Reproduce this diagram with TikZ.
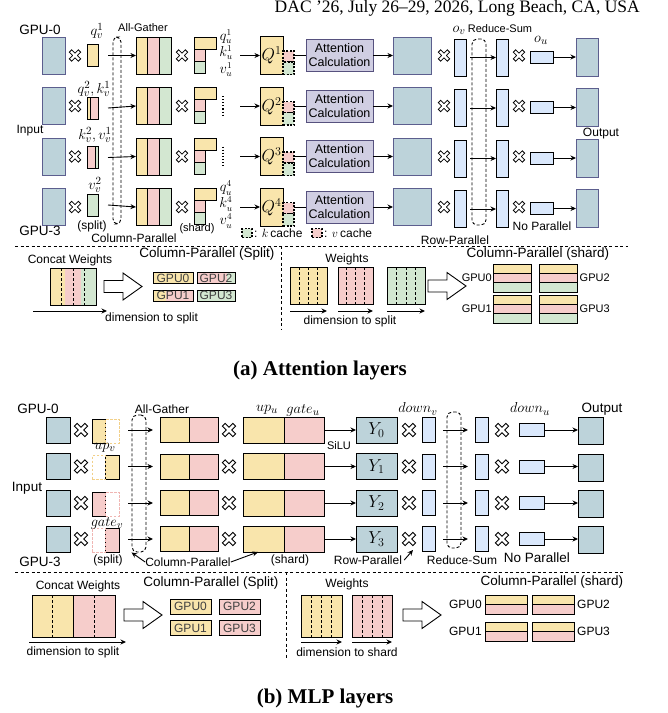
\documentclass[tikz,border=0pt]{standalone}
\usepackage{fontspec}
\setmainfont{Liberation Sans}
\newfontfamily\capfont{Liberation Serif}
\usepackage{amsmath}
\usetikzlibrary{arrows.meta,positioning,calc}
\definecolor{inblue}{HTML}{BDD3DA}
\definecolor{inedge}{HTML}{5C5E8E}
\definecolor{qyel}{HTML}{F9E5AC}
\definecolor{kpink}{HTML}{F6CDCB}
\definecolor{vgreen}{HTML}{D3E7D1}
\definecolor{obluel}{HTML}{DAE8FC}
\definecolor{attfill}{HTML}{D0CEE2}
\definecolor{attedge}{HTML}{56517E}
\definecolor{ghy}{HTML}{F2D089}
\definecolor{ghp}{HTML}{F0B6B3}

\tikzset{
  mulx/.pic={\draw[line width=4.2pt] (-4.8,-4.8)--(4.8,4.8) (-4.8,4.8)--(4.8,-4.8);
    \draw[line width=2.4pt,white] (-4.1,-4.1)--(4.1,4.1) (-4.1,4.1)--(4.1,-4.1);},
  mulxb/.pic={\draw[line width=4.8pt] (-5.6,-5.6)--(5.6,5.6) (-5.6,5.6)--(5.6,-5.6);
    \draw[line width=2.8pt,white] (-4.85,-4.85)--(4.85,4.85) (-4.85,4.85)--(4.85,-4.85);},
  hollowarr/.pic={\draw[line width=0.9pt,fill=white] (0,-6)--(19,-6)--(19,-13.5)--(38,0)--(19,13.5)--(19,6)--(0,6)--cycle;}
}

\begin{document}
\begin{tikzpicture}[x=1pt,y=-1pt,font=\fontsize{12}{13}\selectfont,
  blk/.style={draw=black,line width=0.8pt,inner sep=0pt,outer sep=0pt},
  inbox/.style={blk,draw=inedge,fill=inblue,line width=1pt},
  thinbox/.style={blk,fill=obluel},
  cache/.style={blk,dashed,dash pattern=on 2pt off 1.5pt,line width=1.1pt,minimum width=11pt},
  ghost/.style={blk,dashed,dash pattern=on 2.5pt off 1.5pt},
  dashbox/.style={draw,dashed,dash pattern=on 3pt off 2pt,line width=0.9pt,rounded corners=5pt,inner sep=0pt},
  attbox/.style={blk,draw=attedge,fill=attfill,line width=1pt,minimum width=67pt,minimum height=32pt,align=center,font=\fontsize{12.5}{14}\selectfont},
  gbox/.style={blk,text=black!75,font=\fontsize{12}{12}\selectfont},
  sep/.style={dashed,dash pattern=on 3pt off 2.5pt,line width=0.9pt},
  innerdash/.style={dashed,dash pattern=on 3pt off 2pt,line width=0.9pt},
  arr/.style={-{Stealth[length=5.5pt,width=5pt]},line width=0.9pt},
  lbl/.style={inner sep=0pt},
  slbl/.style={font=\fontsize{11}{12}\selectfont,inner sep=0pt},
  blbl/.style={font=\fontsize{13.5}{14}\selectfont,inner sep=0pt},
  mlab/.style={font=\fontsize{15}{15}\selectfont,inner sep=0pt},
  qlab/.style={font=\fontsize{13.5}{14}\selectfont,inner sep=0pt}]
\useasboundingbox (0,0) rectangle (668,713);

\node[font=\capfont\fontsize{17.5}{18}\selectfont,anchor=east,inner sep=0pt] (hdr) at (640,8) {DAC ’26, July 26–29, 2026, Long Beach, CA, USA};

% (a) attention
\node[blk,fill=qyel,minimum width=11pt,minimum height=22pt] (qv1) at (92.5,55.5) {};
\node[blk,fill=kpink,minimum width=11pt,minimum height=22pt] (qv2) at (92.5,108) {};
\draw[blk,fill=qyel] (qv2.north west) rectangle ([xshift=3pt]qv2.south west);
\node[blk,fill=kpink,minimum width=11pt,minimum height=22pt] (qv3) at (92.5,157.5) {};
\draw[blk,fill=vgreen] ([xshift=-3pt]qv3.north east) rectangle (qv3.south east);
\node[blk,fill=vgreen,minimum width=11pt,minimum height=22pt] (qv4) at (92.5,205) {};

\foreach \r/\yy in {1/55.5,2/106,3/156.5,4/207}{
  \node[inbox,minimum width=23pt,minimum height=37pt] (in\r) at (53.5,\yy) {};
  \pic at (75,\yy) {mulx};
  \node[blk,fill=qyel,minimum width=11.7pt,minimum height=37pt] (cq\r) at (141.8,\yy) {};
  \node[blk,fill=kpink,minimum width=11.7pt,minimum height=37pt,right=0pt of cq\r] (ck\r) {};
  \node[blk,fill=vgreen,minimum width=11.7pt,minimum height=37pt,right=0pt of ck\r] (cv\r) {};
  \pic at (182,\yy) {mulx};
  \node[blk,fill=qyel,minimum width=22pt,minimum height=12pt,anchor=north west] (sq\r) at (194,\yy-18.5) {};
  \node[blk,fill=kpink,minimum width=11pt,minimum height=12pt,anchor=north west] (sk\r) at (sq\r.south west) {};
  \node[blk,fill=vgreen,minimum width=11pt,minimum height=12pt,anchor=north west] (sv\r) at (sk\r.south west) {};
  \coordinate (qa\r) at (240,\yy);
  \node[blk,fill=qyel,minimum width=23pt,minimum height=38pt,font=\fontsize{17}{17}\selectfont] (Q\r) at (271.5,\yy) {$Q^\r$};
  \node[cache,fill=kpink,minimum height=11pt] (vc\r) at (288.5,\yy+1) {};
  \node[cache,fill=vgreen,minimum height=12.5pt] (kc\r) at (288.5,\yy+12.75) {};
  \node[attbox] (att\r) at (339.5,\yy) {Attention\\Calculation};
  \node[inbox,minimum width=38pt,minimum height=37pt] (big\r) at (412,\yy) {};
  \pic at (444,\yy) {mulx};
  \node[thinbox,minimum width=12pt,minimum height=37pt] (ov\r) at (460,\yy+2) {};
  \node[thinbox,minimum width=12pt,minimum height=37pt] (rs\r) at (502,\yy+2) {};
  \pic at (519,\yy) {mulx};
  \node[thinbox,minimum width=23pt,minimum height=12pt] (ou\r) at (541.5,\yy+1.5) {};
  \node[inbox,minimum width=22pt,minimum height=38pt] (out\r) at (587,\yy+1.5) {};
}
\node[dashbox,minimum width=8pt,minimum height=187pt] (ag) at (117,130.5) {};
\node[dashbox,minimum width=14pt,minimum height=186pt] (rsum) at (479,132) {};
\foreach \r in {1,...,4}{
  \draw[arr] ([xshift=10pt]qv\r.east) -- (cq\r.west);
  \draw[arr] (qa\r) -- (Q\r.west);
  \draw[line width=0.9pt] (vc\r.east|-Q\r) -- (att\r.west);
  \draw[arr] (att\r) -- (big\r);
  \draw[arr] ([xshift=4pt]ov\r.east) -- (rs\r.west);
  \draw[arr] (ou\r) -- (out\r);
}
\foreach \r/\yy in {2/106,3/156.5} \draw[dotted,line width=1.1pt] (223,\yy-10) -- (223,\yy+10);
\foreach \r/\yy in {1/55.5,4/207}{
  \node[qlab] at (226,\yy-19) {$q_u^\r$};
  \node[qlab] at (226,\yy-3) {$k_u^\r$};
  \node[qlab] at (226,\yy+14) {$v_u^\r$};
}
\node[blbl] at (40,30) {GPU-0}; \node[blbl] at (40,231) {GPU-3}; \node[lbl] at (30,131) {Input};
\node[mlab] at (97,31) {$q_v^1$}; \node[mlab] at (94,89) {$q_v^2,k_v^1$};
\node[mlab] at (95,135) {$k_v^2,v_v^1$}; \node[mlab] at (95,185) {$v_v^2$};
\node[lbl] at (92,226) {(split)}; \node[slbl] at (143,28) {All-Gather};
\node[lbl] at (134,238) {Column-Parallel}; \node[slbl] at (197,229) {(shard)};
\node[mlab] at (459,30) {$o_v$}; \node[slbl] at (500,29) {Reduce-Sum}; \node[mlab] at (541,40) {$o_u$};
\node[lbl] at (601,134) {Output}; \node[lbl] at (542,226) {No Parallel}; \node[lbl] at (455,240) {Row-Parallel};
\node[cache,fill=vgreen,minimum width=10pt,minimum height=9pt] (lgk) at (247,233) {};
\node[lbl,right=2pt of lgk] {: $k$\,cache};
\node[cache,fill=kpink,minimum width=10pt,minimum height=9pt] (lgv) at (317,233) {};
\node[lbl,right=2pt of lgv] {: $v$\,cache};

\draw[sep] (15,246) -- (628,246);
\draw[sep] (281,246) -- (281,330);
\node[lbl] at (70,260) {Concat Weights};
\node[blk,minimum width=46pt,minimum height=37pt,fill=kpink,path picture={
  \fill[qyel] (path picture bounding box.north west) rectangle ([xshift=15.3pt]path picture bounding box.south west);
  \fill[vgreen] ([xshift=-15.3pt]path picture bounding box.north east) rectangle (path picture bounding box.south east);}] (cata) at (73,286.5) {};
\foreach \f in {0.25,0.5,0.75} \draw[innerdash] ($(cata.north west)!\f!(cata.north east)$) -- ($(cata.south west)!\f!(cata.south east)$);
\draw[arr] ([xshift=-17pt,yshift=-6pt]cata.south west) -- ([xshift=11pt,yshift=-6pt]cata.south east);
\node[lbl,anchor=north west] (dsa) at ([xshift=9pt,yshift=-8pt]cata.south east) {dimension to split};
\pic at (104,286.5) {hollowarr};
\node[blbl] at (207,254) {Column-Parallel (Split)};
\node[gbox,fill=qyel,minimum width=40pt,minimum height=10.5pt] (ga0) at (173,278) {GPU0};
\node[gbox,fill=kpink,minimum width=38pt,minimum height=10.5pt,path picture={
  \fill[vgreen] ([xshift=-8pt]path picture bounding box.north east) rectangle (path picture bounding box.south east);}] (ga2) at (216,278) {GPU2};
\node[gbox,fill=kpink,minimum width=40pt,minimum height=11pt,path picture={
  \fill[qyel] (path picture bounding box.north west) rectangle ([xshift=13pt]path picture bounding box.south west);}] (ga1) at (173,295.5) {GPU1};
\node[gbox,fill=vgreen,minimum width=38pt,minimum height=11pt] (ga3) at (216,295.5) {GPU3};

\node[lbl] at (347,259) {Weights};
\node[blk,fill=qyel,minimum width=37pt,minimum height=37pt] (wqa) at (308.5,285.5) {};
\node[blk,fill=kpink,minimum width=35pt,minimum height=37pt] (wka) at (355.5,285.5) {};
\node[blk,fill=vgreen,minimum width=38pt,minimum height=37pt] (wva) at (406,285.5) {};
\foreach \w in {wqa,wka,wva}{
  \foreach \f in {0.25,0.5,0.75} \draw[innerdash] ($(\w.north west)!\f!(\w.north east)$) -- ($(\w.south west)!\f!(\w.south east)$);
  \draw[arr] ([yshift=-7pt]\w.south west) -- ([yshift=-7pt]\w.south east);
}
\node[lbl] at (350,321) {dimension to split};
\pic at (428,286) {hollowarr};
\node[blbl] at (538,254) {Column-Parallel (shard)};
\foreach \nm/\x/\y in {0/512/264,2/558.5/264,1/512/295,3/558.5/295}{
  \node[blk,fill=qyel,minimum width=38pt,minimum height=9.4pt,anchor=north] (sh\nm q) at (\x,\y) {};
  \node[blk,fill=kpink,minimum width=38pt,minimum height=9.4pt,anchor=north] (sh\nm k) at (sh\nm q.south) {};
  \node[blk,fill=vgreen,minimum width=38pt,minimum height=9.4pt,anchor=north] (sh\nm v) at (sh\nm k.south) {};
}
\node[slbl,anchor=east] at ([xshift=-1pt]sh0k.west) {GPU0}; \node[slbl,anchor=east] at ([xshift=-1pt]sh1k.west) {GPU1};
\node[slbl,anchor=west] at ([xshift=2pt]sh2k.east) {GPU2}; \node[slbl,anchor=west] at ([xshift=2pt]sh3k.east) {GPU3};
\node[font=\capfont\bfseries\fontsize{21}{21}\selectfont,inner sep=0pt] (capa) at (320,370) {(a) Attention layers};

% (b) MLP
\foreach \r/\yy/\fc/\gc/\sx/\gx in {0/430/qyel/ghy/99/112.5,1/466.5/qyel/ghy/112.5/99,2/503/kpink/ghp/99/112.5,3/539/kpink/ghp/112.5/99}{
  \node[blk,fill=inblue,minimum width=24pt,minimum height=26pt] (mi\r) at (58,\yy) {};
  \pic at (81,\yy) {mulxb};
  \node[blk,fill=\fc,minimum width=13.5pt,minimum height=24pt] (ms\r) at (\sx,\yy+1) {};
  \node[ghost,draw=\gc,minimum width=13.5pt,minimum height=24pt] (mg\r) at (\gx,\yy+1) {};
  \coordinate (ma\r) at (128,\yy);
  \node[blk,fill=qyel,minimum width=29pt,minimum height=25pt] (cy\r) at (174.5,\yy) {};
  \node[blk,fill=kpink,minimum width=29pt,minimum height=25pt,right=0pt of cy\r] (cp\r) {};
  \pic at (229,\yy) {mulxb};
  \node[blk,fill=qyel,minimum width=41pt,minimum height=26pt] (uy\r) at (263.5,\yy) {};
  \node[blk,fill=kpink,minimum width=40pt,minimum height=26pt,right=0pt of uy\r] (up\r) {};
  \node[blk,fill=inblue,minimum width=41pt,minimum height=26pt,font=\fontsize{17}{17}\selectfont] (Y\r) at (376.5,\yy) {$Y_\r$};
  \pic at (409,\yy) {mulxb};
  \node[thinbox,minimum width=13pt,minimum height=25pt] (dv\r) at (428.5,\yy) {};
  \node[thinbox,minimum width=13pt,minimum height=25pt] (dr\r) at (481.5,\yy) {};
  \pic at (502,\yy) {mulxb};
  \node[thinbox,minimum width=25pt,minimum height=13pt] (du\r) at (531.5,\yy) {};
  \node[blk,fill=inblue,minimum width=25pt,minimum height=27pt] (mo\r) at (590.5,\yy+1) {};
}
\node[dashbox,minimum width=14pt,minimum height=137pt] (agm) at (139,483.5) {};
\node[dashbox,minimum width=14pt,minimum height=136pt] (rsm) at (454,480) {};
\foreach \r in {0,...,3}{
  \draw[arr] (ma\r) -- ([xshift=-7pt]cy\r.west);
  \draw[arr] (up\r.east) -- (Y\r.west);
  \draw[arr] ([xshift=8pt]dv\r.east) -- ([xshift=-7pt]dr\r.west);
  \draw[arr] (du\r) -- (mo\r.west|-du\r);
}
\node[blbl] at (38,409) {GPU-0}; \node[blbl] at (40,562) {GPU-3}; \node[blbl] at (27,488) {Input};
\node[mlab] at (105,448) {$up_v$}; \node[mlab] at (107,523) {$gate_v$};
\node[lbl] at (108,560) {(split)}; \node[lbl] at (162,409) {All-Gather};
\node[mlab] at (267,410) {$up_u$}; \node[mlab] at (303,410) {$gate_u$};
\node[lbl] (cpm) at (188,562) {Column-Parallel};
\draw[arr] (cpm.west) -- (agm.south west);
\draw[arr] (cpm.east) -- ([xshift=15pt]uy3.south west);
\node[lbl] at (290,560) {(shard)}; \node[slbl] at (339,446) {SiLU};
\node[mlab] at (418,409) {$down_v$}; \node[mlab] at (530,409) {$down_u$};
\node[blbl] at (602,409) {Output};
\node[lbl] (rpm) at (368,560) {Row-Parallel};
\coordinate (rpt) at (413,550);
\draw[arr] ([xshift=2pt]rpm.east) -- (rpt);
\node[lbl] at (462,560) {Reduce-Sum}; \node[blbl] at (537,558) {No Parallel};

\draw[sep] (15,572) -- (623,572);
\draw[sep] (286,572) -- (286,658);
\node[lbl] at (78,586) {Concat Weights};
\node[blk,minimum width=83pt,minimum height=42pt,fill=kpink,path picture={
  \fill[qyel] (path picture bounding box.north west) rectangle (path picture bounding box.south);}] (catb) at (73.5,616) {};
\draw[line width=0.8pt] (catb.north) -- (catb.south);
\foreach \f in {0.25,0.75} \draw[innerdash] ($(catb.north west)!\f!(catb.north east)$) -- ($(catb.south west)!\f!(catb.south east)$);
\draw[arr] ([xshift=-3pt,yshift=-5pt]catb.south west) -- ([xshift=11pt,yshift=-5pt]catb.south east);
\node[lbl] at (73,652) {dimension to split};
\pic at (124,615) {hollowarr};
\node[blbl] at (211,583) {Column-Parallel (Split)};
\node[gbox,fill=qyel,minimum width=41pt,minimum height=15pt] (gb0) at (190.5,606.5) {GPU0};
\node[gbox,fill=kpink,minimum width=41pt,minimum height=15pt] (gb2) at (239.5,606.5) {GPU2};
\node[gbox,fill=qyel,minimum width=41pt,minimum height=15pt] (gb1) at (190.5,628) {GPU1};
\node[gbox,fill=kpink,minimum width=41pt,minimum height=15pt] (gb3) at (239.5,628) {GPU3};
\node[lbl] at (347,584) {Weights};
\node[blk,fill=qyel,minimum width=41pt,minimum height=42pt] (wyb) at (321.5,616) {};
\node[blk,fill=kpink,minimum width=40pt,minimum height=42pt] (wkb) at (372,616) {};
\foreach \w in {wyb,wkb}{
  \foreach \f in {0.25,0.5,0.75} \draw[innerdash] ($(\w.north west)!\f!(\w.north east)$) -- ($(\w.south west)!\f!(\w.south east)$);
  \draw[arr] ([yshift=-5pt]\w.south west) -- ([yshift=-5pt]\w.south east);
}
\node[lbl] at (347,652) {dimension to shard};
\pic at (403,615) {hollowarr};
\node[blbl] at (552,582) {Column-Parallel (shard)};
\foreach \nm/\x/\y in {0/506/595,2/553/595,1/506/622,3/553/622}{
  \node[blk,fill=qyel,minimum width=42pt,minimum height=9.5pt,anchor=north] (mb\nm q) at (\x,\y) {};
  \node[blk,fill=kpink,minimum width=42pt,minimum height=9.5pt,anchor=north] (mb\nm k) at (mb\nm q.south) {};
}
\node[lbl,anchor=east] at ([xshift=-3pt]mb0q.south west) {GPU0}; \node[lbl,anchor=east] at ([xshift=-3pt]mb1q.south west) {GPU1};
\node[lbl,anchor=west] at ([xshift=3pt]mb2q.south east) {GPU2}; \node[lbl,anchor=west] at ([xshift=3pt]mb3q.south east) {GPU3};
\node[font=\capfont\bfseries\fontsize{21}{21}\selectfont,inner sep=0pt] (capb) at (325,698) {(b) MLP layers};
\end{tikzpicture}
\end{document}
